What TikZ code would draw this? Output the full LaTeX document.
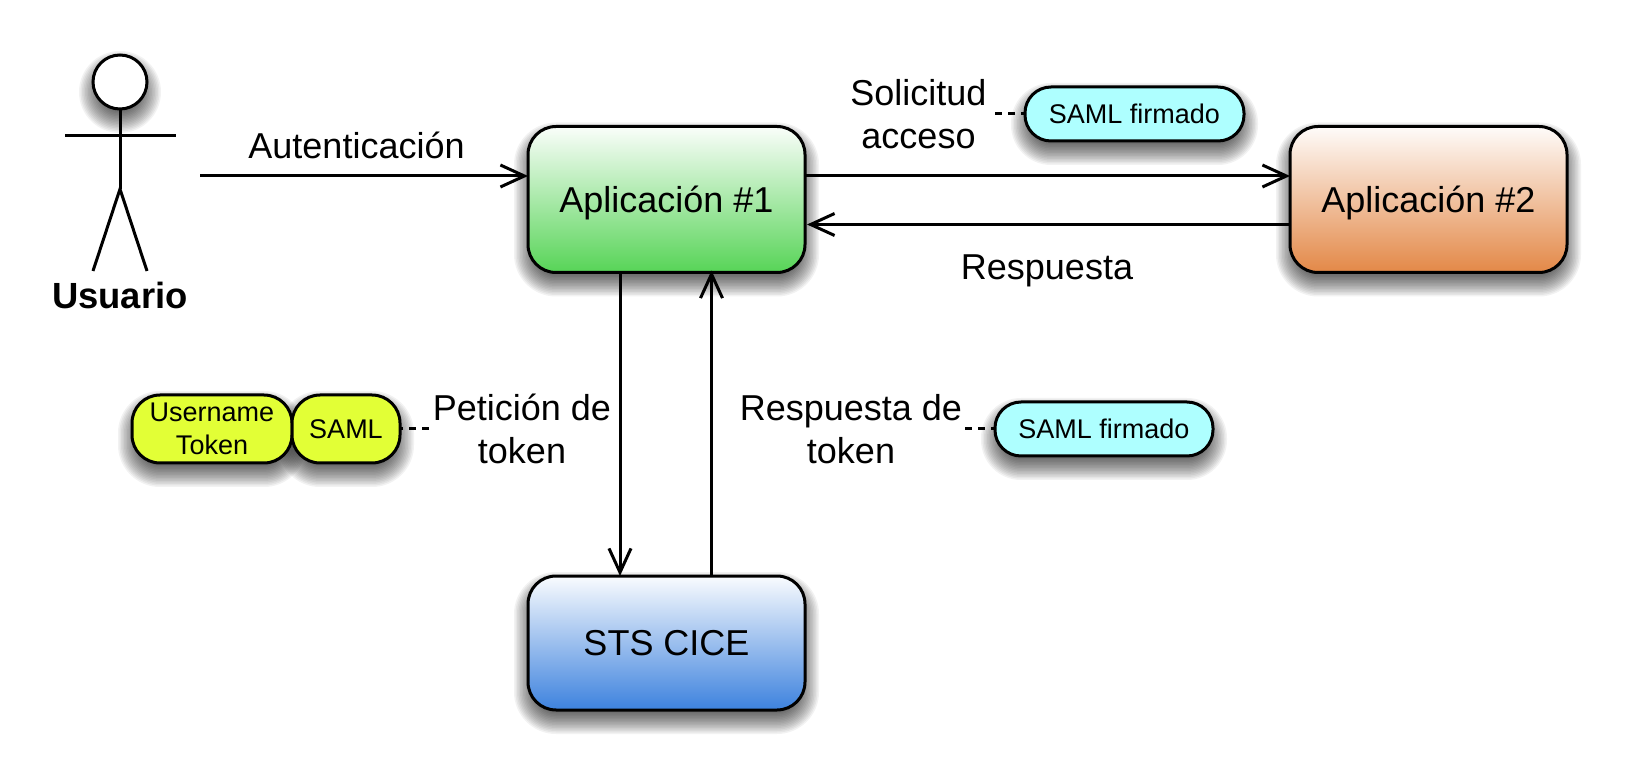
\documentclass[tikz,border=0pt]{standalone}
\usepackage{fontspec}
\setmainfont{Liberation Sans}
\usetikzlibrary{arrows.meta}
\pgfdeclarelayer{back}
\pgfsetlayers{back,main}
\tikzset{
  appbox/.style={draw=black,line width=3pt,rounded corners=28pt,minimum width=277pt,minimum height=146pt,inner sep=0pt,outer sep=0pt,font=\fontsize{36}{42}\selectfont,text=black,top color=#1!3!white,bottom color=#1,shading angle=0},
  pillbox/.style={draw=black,line width=3pt,rounded corners=26pt,minimum height=54pt,inner sep=0pt,outer sep=0pt,font=\fontsize{27}{33}\selectfont,fill=#1},
  caption/.style={inner sep=0pt,align=center,font=\fontsize{36}{42.5}\selectfont},
  conn/.style={line width=3pt,-{Straight Barb[length=24pt,width=22pt,line width=3pt]}},
  note/.style={line width=3pt,dash pattern=on 7pt off 6pt},
  limb/.style={line width=3pt},
  shadowlayer/.style={black,opacity=.05}
}
% stacked translucent outlines give a soft drop shadow
\newcommand{\softbox}[2]{%
  \foreach \e in {-7,-5.5,...,15}{%
    \pgfmathsetmacro{\rr}{max(#2+\e,2)}%
    \fill[shadowlayer,rounded corners=\rr pt] ([shift={(-\e pt,{-10pt+\e pt})}]#1.north west) rectangle ([shift={(\e pt,{-10pt-\e pt})}]#1.south east);
  }}
\newcommand{\softcircle}[1]{%
  \foreach \e in {-7,-5.5,...,15}{%
    \fill[shadowlayer] ([yshift=-10pt]#1.center) circle[radius={27pt+\e pt}];
  }}
\newcommand{\lowered}[1]{\raisebox{-13.5pt}[0pt][0pt]{#1}}
\definecolor{grn}{HTML}{57D457}
\definecolor{org}{HTML}{E38847}
\definecolor{blu}{HTML}{3D82DE}
\definecolor{ylw}{HTML}{E2FF36}
\definecolor{cyn}{HTML}{AEFFFF}
\begin{document}
\begin{tikzpicture}[x=1pt,y=-1pt]
\useasboundingbox (0,0) rectangle (1626,783);
% actor
\node[circle,draw=black,line width=3pt,fill=white,minimum size=54pt,inner sep=0pt,outer sep=0pt] (head) at (120,82) {};
\coordinate (hip) at (120,189);
\coordinate (armL) at (65,136);
\coordinate (armR) at (176,136);
\coordinate (footL) at (93,271);
\coordinate (footR) at (147,271);
\draw[limb] (head.south) -- (hip);
\draw[limb] (armL) -- (armR);
\draw[limb] (footL) -- (hip) -- (footR);
\node[inner sep=0pt,font=\fontsize{36.4}{42}\selectfont\bfseries] (usuario) at (120,295.5) {Usuario};
% main boxes
\node[appbox=grn] (app1) at (666.5,199.5) {\lowered{Aplicación \#1}};
\node[appbox=org] (app2) at (1428.5,199.5) {\lowered{Aplicación \#2}};
\node[appbox=blu,minimum height=134pt] (sts) at (666.5,643) {STS CICE};
% arrows
\coordinate (start) at (200,176);
\draw[conn] (start) -- (start -| app1.west);
\draw[conn] ([yshift=23.5pt]app1.east) -- ([yshift=23.5pt]app2.west);
\draw[conn] ([yshift=-25pt]app2.west) -- ([yshift=-25pt,xshift=2pt]app1.east);
\draw[conn] ([xshift=-46.5pt]app1.south) -- ([xshift=-46.5pt]sts.north);
\draw[conn] ([xshift=45pt]sts.north) -- ([xshift=45pt,yshift=2pt]app1.south);
% captions
\node[caption] (lauth) at (356.5,145.5) {Autenticación};
\node[caption] (lsol) at (918.5,114) {Solicitud\\acceso};
\node[caption] (lresp) at (1047,271) {Respuesta};
\node[caption] (lpet) at (522,429) {Petición de\\token};
\node[caption] (lrta) at (851,429) {Respuesta de\\token};
% pills
\node[pillbox=cyn,minimum width=219pt] (p1) at (1134.5,114) {\raisebox{-1pt}{SAML firmado}};
\node[pillbox=cyn,minimum width=218pt] (p2) at (1104,429) {\raisebox{-1pt}{SAML firmado}};
\node[pillbox=ylw,minimum width=160pt,minimum height=68pt,rounded corners=28pt,align=center] (u1) at (212,429) {Username\\Token};
\node[pillbox=ylw,minimum width=108pt,minimum height=68pt,rounded corners=28pt] (u2) at (346,429) {SAML};
% dashed notes
\coordinate (d1) at (995,114);
\coordinate (d2) at (965,429);
\coordinate (d3) at (429,429);
\draw[note] (d1) -- (p1.west);
\draw[note] (d2) -- (p2.west);
\draw[note] (d3) -- (u2.east);
% shadows and page behind everything
\begin{pgfonlayer}{back}
\fill[white] (0,0) rectangle (1626,783);
\softcircle{head}
\softbox{app1}{28}
\softbox{app2}{28}
\softbox{sts}{28}
\softbox{p1}{26}
\softbox{p2}{26}
\softbox{u1}{28}
\softbox{u2}{28}
\end{pgfonlayer}
\end{tikzpicture}
\end{document}
